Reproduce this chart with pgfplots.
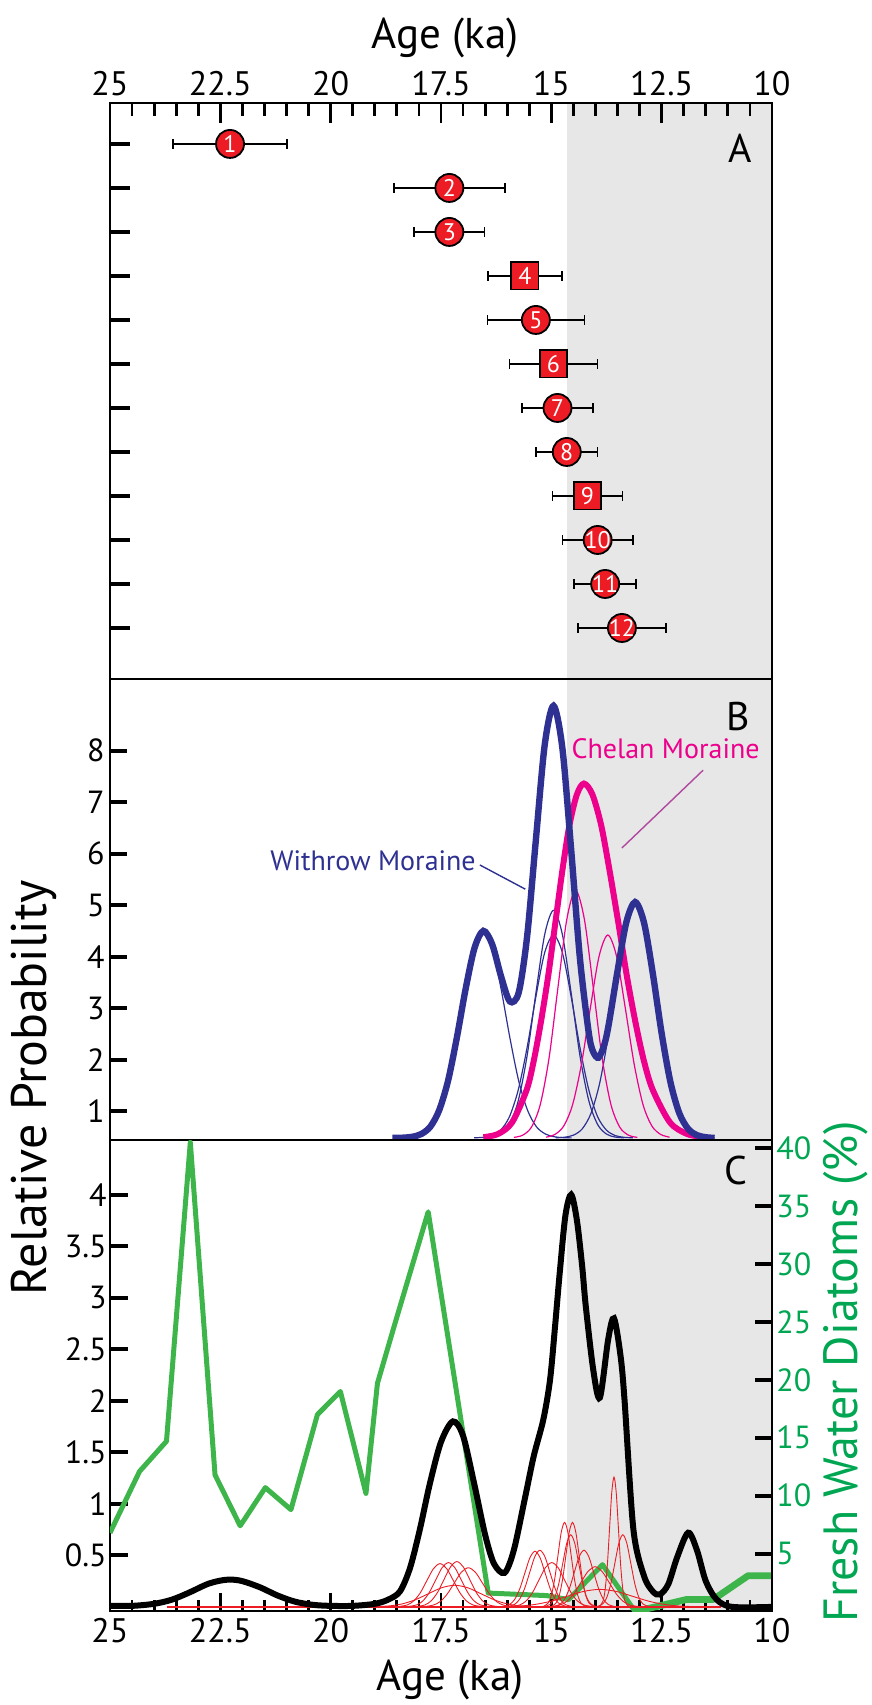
\documentclass[border=0pt]{standalone}
\usepackage{fontspec}
\setmainfont{PT Sans}
\usepackage{pgfplots}
\usepackage{pgfplotstable}
\pgfplotsset{compat=1.18}

\definecolor{shade}{RGB}{231,231,231}
\definecolor{navy}{RGB}{46,49,146}
\definecolor{mag}{RGB}{236,0,140}
\definecolor{leader}{RGB}{176,72,160}
\definecolor{redfill}{RGB}{237,28,36}
\definecolor{thinred}{RGB}{237,28,36}
\definecolor{diatom}{RGB}{61,181,74}
\definecolor{diatomtext}{RGB}{0,166,81}

% panel A: ages with 1-sigma errors
\pgfplotstableread{
x y e lab
22.28 1 1.29 1
17.31 2 1.26 2
17.31 3 0.80 3
15.35 5 1.10 5
14.86 7 0.80 7
14.65 8 0.70 8
13.95 10 0.80 10
13.78 11 0.70 11
13.40 12 1.00 12
}\circles
\pgfplotstableread{
x y e lab
15.60 4 0.84 4
14.95 6 1.00 6
14.18 9 0.79 9
}\squares

\pgfplotsset{
  panel/.style={width=331pt, scale only axis, x dir=reverse, xmin=10, xmax=25,
    axis on top, tick align=inside,
    axis line style={line width=1.4pt},
    xtick={10,12.5,...,25}, minor x tick num=4,
    every tick/.append style={black},
    xtick style={line width=1.4pt, black}, ytick style={line width=2pt, black},
    every minor tick/.append style={line width=1.2pt, black},
    /pgf/number format/assume math mode=true},
  redc/.style={thinred, line width=0.45pt, smooth},
  bthin/.style={navy, line width=0.6pt, smooth},
  mthin/.style={mag, line width=0.6pt, smooth},
  ebar/.style={draw=none, error bars/.cd, x dir=both, x explicit,
    error bar style={draw=black, line width=0.8pt},
    error mark options={draw=black, line width=0.8pt, mark size=2.4pt, rotate=90}},
}

\begin{document}
\begin{tikzpicture}
\useasboundingbox (-55pt,51.5pt) rectangle (381pt,-801pt);

% ---------------- A ----------------
\begin{axis}[panel, at={(0,0)}, anchor=north west, height=288pt,
  y dir=reverse, ymin=0.07, ymax=13.16,
  xtick pos=right, xticklabel pos=right,
  ytick={1,...,12}, yticklabels={}, ytick pos=left,
  major tick length=10pt, minor tick length=6.5pt,
  xticklabel style={font=\fontsize{17}{17}\selectfont}]
\addplot[draw=none, fill=shade] coordinates {(14.65,0.07) (10,0.07) (10,13.16) (14.65,13.16)} -- cycle;
\addplot[ebar] table[x=x, y=y, x error=e] {\circles};
\addplot[ebar] table[x=x, y=y, x error=e] {\squares};
\addplot[only marks, mark=*, mark size=7pt,
  mark options={fill=redfill, draw=black, line width=0.9pt},
  nodes near coords, point meta=explicit symbolic,
  nodes near coords style={anchor=center, text=white, inner sep=0pt,
    font=\fontsize{12}{12}\selectfont}]
  table[x=x, y=y, meta=lab] {\circles};
\addplot[only marks, mark=square*, mark size=6.8pt,
  mark options={fill=redfill, draw=black, line width=0.9pt},
  nodes near coords, point meta=explicit symbolic,
  nodes near coords style={anchor=center, text=white, inner sep=0pt,
    font=\fontsize{12}{12}\selectfont}]
  table[x=x, y=y, meta=lab] {\squares};
\node[font=\fontsize{20}{20}\selectfont] at (axis cs:10.72,1.09) {A};
\end{axis}

% ---------------- B ----------------
\begin{axis}[panel, at={(0,-288pt)}, anchor=north west, height=230.5pt,
  ymin=0.44, ymax=9.39, xtick=\empty,
  ytick={1,...,8}, ytick pos=left, major tick length=8.5pt,
  yticklabel style={font=\fontsize{16}{16}\selectfont, inner sep=2.5pt}]
\addplot[draw=none, fill=shade] coordinates {(14.65,0.44) (10,0.44) (10,9.39) (14.65,9.39)} -- cycle;
% Withrow single ages
\addplot[bthin] coordinates {(18.54,0.481)(18.34,0.486)(18.14,0.504)(17.94,0.559)(17.74,0.70)(17.54,1.02)(17.34,1.59)(17.14,2.43)(16.94,3.38)(16.74,4.17)(16.54,4.48)(16.34,4.17)(16.14,3.38)(15.94,2.43)(15.74,1.59)(15.54,1.02)(15.34,0.70)(15.14,0.559)(14.94,0.504)(14.74,0.486)(14.54,0.481)};
\addplot[bthin] coordinates {(16.55,0.483)(16.35,0.497)(16.15,0.555)(15.95,0.74)(15.75,1.20)(15.55,2.07)(15.35,3.29)(15.15,4.43)(14.95,4.90)(14.75,4.43)(14.55,3.29)(14.35,2.07)(14.15,1.20)(13.95,0.74)(13.75,0.555)(13.55,0.497)(13.35,0.483)};
\addplot[bthin] coordinates {(16.75,0.483)(16.55,0.492)(16.35,0.526)(16.15,0.631)(15.95,0.89)(15.75,1.41)(15.55,2.23)(15.35,3.22)(15.15,4.08)(14.95,4.42)(14.75,4.08)(14.55,3.22)(14.35,2.23)(14.15,1.41)(13.95,0.89)(13.75,0.631)(13.55,0.526)(13.35,0.492)(13.15,0.483)};
\addplot[bthin] coordinates {(14.90,0.483)(14.70,0.494)(14.50,0.534)(14.30,0.656)(14.10,0.96)(13.90,1.56)(13.70,2.51)(13.50,3.67)(13.30,4.66)(13.10,5.06)(12.90,4.66)(12.70,3.67)(12.50,2.51)(12.30,1.56)(12.10,0.96)(11.90,0.656)(11.70,0.534)(11.50,0.494)(11.30,0.483)};
% Chelan single ages
\addplot[mthin] coordinates {(15.85,0.491)(15.65,0.533)(15.45,0.69)(15.25,1.13)(15.05,2.04)(14.85,3.40)(14.65,4.72)(14.45,5.29)(14.25,4.72)(14.05,3.40)(13.85,2.04)(13.65,1.13)(13.45,0.69)(13.25,0.533)(13.05,0.491)};
\addplot[mthin] coordinates {(15.12,0.495)(14.92,0.547)(14.72,0.71)(14.52,1.12)(14.32,1.90)(14.12,2.98)(13.92,4.00)(13.72,4.42)(13.52,4.00)(13.32,2.98)(13.12,1.90)(12.92,1.12)(12.72,0.71)(12.52,0.547)(12.32,0.495)};
% summed curves
\addplot[mag, line width=3pt, smooth] coordinates {(16.54,0.495)(16.21,0.556)(15.89,0.78)(15.56,1.41)(15.40,1.97)(15.24,2.71)(15.07,3.63)(14.91,4.65)(14.75,5.67)(14.59,6.55)(14.42,7.15)(14.26,7.36)(14.07,7.15)(13.87,6.55)(13.68,5.67)(13.48,4.65)(13.29,3.63)(13.09,2.71)(12.90,1.97)(12.70,1.41)(12.31,0.78)(11.92,0.556)(11.53,0.495)};
\addplot[navy, line width=3.2pt, smooth] coordinates {(18.60,0.48)(18.54,0.481)(18.34,0.486)(18.14,0.504)(17.94,0.559)(17.74,0.70)(17.54,1.02)(17.34,1.59)(17.14,2.43)(16.94,3.38)(16.74,4.17)(16.54,4.50)(16.34,4.24)(16.14,3.62)(15.94,3.13)(15.74,3.30)(15.55,4.38)(15.35,6.27)(15.15,8.11)(14.95,8.87)(14.75,8.05)(14.55,6.07)(14.35,3.95)(14.15,2.51)(14.05,2.15)(13.93,2.04)(13.80,2.29)(13.70,2.68)(13.50,3.72)(13.30,4.67)(13.10,5.06)(12.90,4.66)(12.70,3.67)(12.50,2.51)(12.30,1.56)(12.10,0.96)(11.90,0.656)(11.70,0.534)(11.50,0.494)(11.30,0.48)};
% labels
\draw[leader, line width=0.7pt] (axis cs:11.56,7.62) -- (axis cs:13.40,6.11);
\draw[navy, line width=0.7pt] (axis cs:16.62,5.78) -- (axis cs:15.59,5.31);
\node[mag, font=\fontsize{14}{14}\selectfont] at (axis cs:12.41,8.03) {Chelan Moraine};
\node[navy, font=\fontsize{14}{14}\selectfont] at (axis cs:19.04,5.87) {Withrow Moraine};
\node[font=\fontsize{20}{20}\selectfont] at (axis cs:10.77,8.67) {B};
\end{axis}

% ---------------- C ----------------
\begin{axis}[panel, at={(0,-518.5pt)}, anchor=north west, height=235.5pt,
  ymin=-0.04, ymax=4.53,
  xtick pos=left, ytick={0.5,1,...,4}, ytick pos=left,
  major tick length=9pt, minor tick length=5.5pt,
  xticklabel style={font=\fontsize{17}{17}\selectfont},
  yticklabel style={font=\fontsize{16}{16}\selectfont, inner sep=1.5pt}]
\addplot[draw=none, fill=shade] coordinates {(14.65,-0.04) (10,-0.04) (10,4.53) (14.65,4.53)} -- cycle;
\end{axis}

\begin{axis}[panel, at={(0,-518.5pt)}, anchor=north west, height=235.5pt,
  ymin=0.05, ymax=40.7, axis x line=none, axis y line*=right,
  ytick={5,10,...,40}, major tick length=8.5pt,
  yticklabel style={font=\fontsize{16}{16}\selectfont, text=diatomtext, inner sep=2pt}]
\addplot[diatom, line width=2.5pt, line join=round] coordinates {(25,6.8)(24.33,12.1)(23.72,14.7)(23.18,40.5)(22.62,11.8)(22.05,7.4)(21.48,10.7)(20.90,8.8)(20.30,17.0)(19.78,19.0)(19.20,10.2)(18.94,19.7)(18.54,24.9)(17.79,34.5)(16.43,1.6)(15.10,1.38)(14.61,1.03)(13.84,4.05)(13.10,0.0)};
\addplot[diatom, line width=3.4pt, line join=round] coordinates {(13.10,0.0)(11.93,1.05)(11.33,1.05)(10.54,3.1)(10.0,3.1)};
\end{axis}

\begin{axis}[panel, at={(0,-518.5pt)}, anchor=north west, height=235.5pt,
  ymin=-0.04, ymax=4.53, axis lines=none, xtick=\empty, ytick=\empty]
\addplot[thinred, line width=0.8pt] coordinates {(23.7,0) (11.15,0)};
\addplot[redc] coordinates {(18.48,0.003)(18.27,0.018)(18.12,0.057)(17.97,0.136)(17.82,0.255)(17.67,0.371)(17.52,0.42)(17.37,0.371)(17.22,0.255)(17.07,0.136)(16.92,0.057)(16.77,0.018)(16.56,0.003)};
\addplot[redc] coordinates {(18.26,0.003)(18.055,0.019)(17.91,0.058)(17.765,0.140)(17.62,0.261)(17.475,0.380)(17.33,0.43)(17.185,0.380)(17.04,0.261)(16.895,0.140)(16.75,0.058)(16.605,0.019)(16.40,0.003)};
\addplot[redc] coordinates {(18.07,0.003)(17.865,0.019)(17.72,0.060)(17.575,0.143)(17.43,0.267)(17.285,0.388)(17.14,0.44)(16.995,0.388)(16.85,0.267)(16.705,0.143)(16.56,0.060)(16.415,0.019)(16.21,0.003)};
\addplot[redc] coordinates {(17.90,0.002)(17.68,0.017)(17.52,0.051)(17.36,0.124)(17.20,0.231)(17.04,0.336)(16.88,0.38)(16.72,0.336)(16.56,0.231)(16.40,0.124)(16.24,0.051)(16.08,0.017)(15.86,0.002)};
\addplot[redc] coordinates {(19.11,0.001)(18.69,0.009)(18.39,0.028)(18.09,0.068)(17.79,0.127)(17.49,0.185)(17.19,0.21)(16.89,0.185)(16.59,0.127)(16.29,0.068)(15.99,0.028)(15.69,0.009)(15.27,0.001)};
\addplot[redc] coordinates {(16.11,0.003)(15.945,0.024)(15.83,0.073)(15.715,0.176)(15.60,0.328)(15.485,0.477)(15.37,0.54)(15.255,0.477)(15.14,0.328)(15.025,0.176)(14.91,0.073)(14.795,0.024)(14.63,0.003)};
\addplot[redc] coordinates {(16.00,0.003)(15.835,0.024)(15.72,0.074)(15.605,0.179)(15.49,0.334)(15.375,0.486)(15.26,0.55)(15.145,0.486)(15.03,0.334)(14.915,0.179)(14.80,0.074)(14.685,0.024)(14.52,0.003)};
\addplot[redc] coordinates {(15.92,0.003)(15.715,0.019)(15.57,0.058)(15.425,0.140)(15.28,0.261)(15.135,0.380)(14.99,0.43)(14.845,0.380)(14.70,0.261)(14.555,0.140)(14.41,0.058)(14.265,0.019)(14.06,0.003)};
\addplot[redc] coordinates {(15.18,0.005)(15.075,0.036)(15.00,0.111)(14.925,0.267)(14.85,0.498)(14.775,0.724)(14.70,0.82)(14.625,0.724)(14.55,0.498)(14.475,0.267)(14.40,0.111)(14.325,0.036)(14.22,0.005)};
\addplot[redc] coordinates {(15.00,0.005)(14.895,0.036)(14.82,0.111)(14.745,0.267)(14.67,0.498)(14.595,0.724)(14.52,0.82)(14.445,0.724)(14.37,0.498)(14.295,0.267)(14.22,0.111)(14.145,0.036)(14.04,0.005)};
\addplot[redc] coordinates {(15.14,0.004)(15.01,0.031)(14.92,0.095)(14.83,0.228)(14.74,0.425)(14.65,0.618)(14.56,0.70)(14.47,0.618)(14.38,0.425)(14.29,0.228)(14.20,0.095)(14.11,0.031)(13.98,0.004)};
\addplot[redc] coordinates {(14.96,0.003)(14.81,0.024)(14.70,0.074)(14.59,0.179)(14.48,0.334)(14.37,0.486)(14.26,0.55)(14.15,0.486)(14.04,0.334)(13.93,0.179)(13.82,0.074)(13.71,0.024)(13.56,0.003)};
\addplot[redc] coordinates {(15.03,0.002)(14.81,0.017)(14.65,0.053)(14.49,0.127)(14.33,0.237)(14.17,0.344)(14.01,0.39)(13.85,0.344)(13.69,0.237)(13.53,0.127)(13.37,0.053)(13.21,0.017)(12.99,0.002)};
\addplot[redc] coordinates {(16.27,0.001)(15.75,0.007)(15.38,0.023)(15.01,0.055)(14.64,0.103)(14.27,0.150)(13.90,0.17)(13.53,0.150)(13.16,0.103)(12.79,0.055)(12.42,0.023)(12.05,0.007)(11.53,0.001)};
\addplot[redc] coordinates {(13.90,0.008)(13.83,0.055)(13.78,0.170)(13.73,0.410)(13.68,0.765)(13.63,1.112)(13.58,1.26)(13.53,1.112)(13.48,0.765)(13.43,0.410)(13.38,0.170)(13.33,0.055)(13.26,0.008)};
\addplot[redc] coordinates {(13.96,0.004)(13.83,0.031)(13.74,0.095)(13.65,0.228)(13.56,0.425)(13.47,0.618)(13.38,0.70)(13.29,0.618)(13.20,0.425)(13.11,0.228)(13.02,0.095)(12.93,0.031)(12.80,0.004)};
% summed probability
\addplot[black, line width=3pt, smooth, tension=0.5] coordinates {(25.0,0.01)(24.5,0.01)(24.0,0.03)(23.6,0.07)(23.2,0.14)(22.8,0.22)(22.5,0.255)(22.26,0.265)(22.0,0.25)(21.6,0.19)(21.2,0.11)(20.8,0.05)(20.4,0.02)(20.0,0.01)(19.5,0.01)(19.0,0.03)(18.7,0.07)(18.43,0.15)(18.2,0.38)(17.98,0.75)(17.75,1.2)(17.5,1.6)(17.23,1.80)(17.0,1.66)(16.75,1.2)(16.5,0.7)(16.3,0.42)(16.06,0.33)(15.85,0.55)(15.6,1.05)(15.40,1.46)(15.18,1.82)(15.03,2.2)(14.92,2.7)(14.81,3.24)(14.68,3.8)(14.55,4.0)(14.42,3.75)(14.3,3.3)(14.22,2.92)(14.05,2.3)(13.90,2.03)(13.71,2.6)(13.58,2.80)(13.43,2.43)(13.34,2.0)(13.14,0.75)(12.9,0.3)(12.7,0.15)(12.54,0.12)(12.35,0.22)(12.15,0.48)(11.90,0.72)(11.7,0.55)(11.5,0.25)(11.25,0.07)(10.9,0.0)(10.0,0.0)};
\node[font=\fontsize{20}{20}\selectfont] at (axis cs:10.81,4.23) {C};
\end{axis}

% axis titles
\node[anchor=base, font=\fontsize{21.5}{21.5}\selectfont] at (167.5pt,27.5pt) {Age (ka)};
\node[anchor=base, font=\fontsize{21.5}{21.5}\selectfont] at (170pt,-793.5pt) {Age (ka)};
\node[rotate=90, font=\fontsize{25}{25}\selectfont] at (-38pt,-492.5pt) {Relative Probability};
\node[rotate=90, text=diatomtext, font=\fontsize{24}{24}\selectfont] at (368pt,-634.5pt) {Fresh Water Diatoms (\%)};
\end{tikzpicture}
\end{document}
